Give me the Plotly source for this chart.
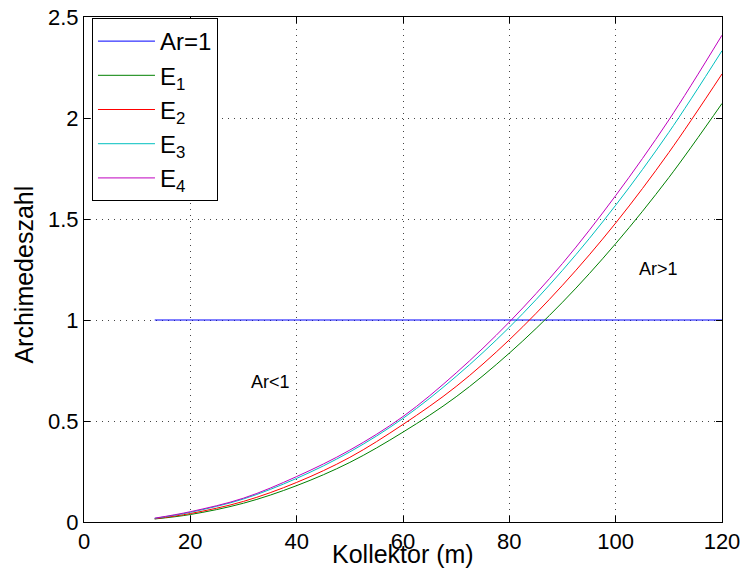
import plotly.graph_objects as go

# Data
kollektor = [13.3, 20, 30, 40, 50, 60, 70, 80, 90, 100, 110, 120]
e1 = [0.015, 0.037, 0.093, 0.180, 0.295, 0.445, 0.620, 0.836, 1.088, 1.378, 1.705, 2.072]
e2 = [0.016, 0.042, 0.102, 0.196, 0.320, 0.483, 0.671, 0.902, 1.172, 1.480, 1.829, 2.218]
e3 = [0.018, 0.048, 0.114, 0.216, 0.347, 0.513, 0.721, 0.964, 1.246, 1.568, 1.929, 2.333]
e4 = [0.019, 0.051, 0.118, 0.225, 0.356, 0.522, 0.738, 0.990, 1.280, 1.616, 1.990, 2.410]
ar_x = [13.3, 120]
ar_y = [1, 1]

series_names = ["Ar=1", "E<sub>1</sub>", "E<sub>2</sub>", "E<sub>3</sub>", "E<sub>4</sub>"]
colors = ["#0000ff", "#008000", "#ff0000", "#00bfbf", "#bf00bf"]

x_ticks = [0, 20, 40, 60, 80, 100, 120]
y_ticks = [0, 0.5, 1, 1.5, 2, 2.5]

region_labels = ["Ar<1", "Ar>1"]
region_x = [35.1, 108.1]
region_y = [0.692, 1.254]

FONT = "Liberation Sans, Arial, Helvetica, sans-serif"

fig = go.Figure()
fig.add_trace(go.Scatter(x=ar_x, y=ar_y, mode="lines", name=series_names[0],
                         line=dict(color=colors[0], width=1)))
for name, col, ys in zip(series_names[1:], colors[1:], [e1, e2, e3, e4]):
    fig.add_trace(go.Scatter(x=kollektor, y=ys, mode="lines", name=name,
                             line=dict(color=col, width=1, shape="spline", smoothing=1.0)))

for t, xv, yv in zip(region_labels, region_x, region_y):
    fig.add_annotation(x=xv, y=yv, xref="x", yref="y", text=t, showarrow=False,
                       font=dict(size=18, color="black", family=FONT))

fig.add_annotation(x=0.5, y=-0.063, xref="paper", yref="paper", text="Kollektor (m)",
                   showarrow=False, yanchor="middle", xanchor="center",
                   font=dict(size=25, color="black", family=FONT))
fig.add_annotation(x=-0.094, y=0.49, xref="paper", yref="paper", text="Archimedeszahl",
                   showarrow=False, textangle=-90, yanchor="middle", xanchor="center",
                   font=dict(size=25, color="black", family=FONT))

axis_common = dict(showline=True, linecolor="black", linewidth=1, mirror="ticks",
                   ticks="inside", ticklen=6, tickcolor="black", tickwidth=1,
                   showgrid=True, gridcolor="#444444", gridwidth=1, griddash="1px,5px",
                   zeroline=False, automargin=False,
                   tickfont=dict(size=22, color="black", family=FONT))

fig.update_xaxes(range=[0, 120], tickvals=x_ticks, **axis_common)
fig.update_yaxes(range=[0, 2.5], tickvals=y_ticks, **axis_common)

fig.update_layout(
    width=744, height=574,
    margin=dict(l=84, r=22, t=17, b=52, autoexpand=False),
    paper_bgcolor="white", plot_bgcolor="white",
    font=dict(family=FONT, color="black"),
    showlegend=True,
    legend=dict(x=0.0125, y=0.998, xanchor="left", yanchor="top",
                bgcolor="white", bordercolor="black", borderwidth=1,
                font=dict(size=24, color="black", family=FONT),
                tracegroupgap=0, itemwidth=57, entrywidth=75, entrywidthmode="pixels"),
)

fig.write_html("out.html")
